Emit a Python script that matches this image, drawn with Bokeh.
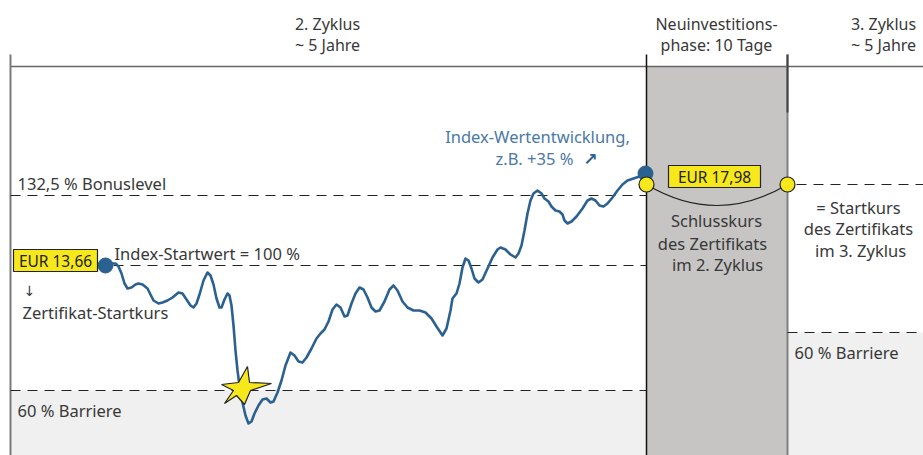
from bokeh.plotting import figure
from bokeh.models import Range1d
from bokeh.core.properties import value
from bokeh.embed import file_html
from bokeh.resources import INLINE

# ---------------- data (chart coordinates: x = time, y = screen level) ----------------
idx_x = [105, 110, 115, 118, 121, 124, 127, 131, 135, 138, 142, 147, 150, 153, 158, 162, 167, 172, 178, 182,
         186, 190, 193, 196, 199, 203, 207, 210, 213, 216, 219, 221, 224, 227, 229, 231, 233, 235, 237, 239,
         242, 245, 248, 251, 254, 258, 262, 266, 270, 273, 277, 281, 285, 290, 294, 298, 302, 306, 311, 316,
         320, 324, 328, 332, 336, 340, 344, 347, 351, 355, 359, 363, 367, 371, 375, 379, 384, 389, 393, 397,
         402, 407, 413, 419, 425, 431, 436, 442, 446, 450, 452, 456, 459, 462, 465, 468, 471, 474, 478, 482,
         487, 492, 497, 500, 505, 510, 515, 518, 521, 524, 527, 530, 533, 537, 541, 544, 548, 551, 555, 559,
         562, 564, 567, 571, 576, 582, 587, 591, 595, 599, 603, 607, 612, 617, 622, 627, 633, 639, 645]
idx_y = [265, 263, 263, 266, 273, 283, 288, 287, 284, 283, 284, 288, 294, 300, 303, 302, 300, 297, 292, 293,
         299, 305, 307, 303, 294, 280, 272, 275, 284, 298, 307, 307, 299, 293, 295, 305, 325, 350, 370, 385,
         402, 415, 423, 421, 413, 405, 399, 398, 402, 401, 392, 380, 365, 352, 355, 361, 362, 357, 348, 338,
         333, 329, 321, 309, 304, 307, 316, 315, 303, 293, 287, 289, 297, 307, 311, 310, 301, 289, 285, 290,
         301, 307, 310, 310, 312, 318, 326, 335, 328, 310, 298, 293, 283, 267, 258, 260, 268, 278, 282, 279,
         268, 257, 249, 247, 249, 254, 257, 253, 245, 230, 213, 200, 193, 190, 193, 198, 201, 206, 210, 211,
         214, 220, 223, 221, 216, 208, 200, 198, 200, 205, 206, 203, 197, 190, 184, 180, 178, 176, 173]

level_names = ["bonus", "start", "barrier"]
level_y = [195, 265, 390]          # 132,5 % / 100 % / 60 %
next_start_y = 184                 # Startkurs 3. Zyklus
next_barrier_y = 332               # 60 % Barriere 3. Zyklus

cycle2_x = [10, 646]
phase_x = [646, 787]
cycle3_x = [787, 923]

star_x = [247, 249, 271, 250, 244, 236, 224, 233, 221, 238]
star_y = [366, 382, 383, 390, 404, 395, 403, 390, 384, 382]

header_text = ["2. Zyklus", "~ 5 Jahre", "Neuinvestitions-", "phase: 10 Tage", "3. Zyklus", "~ 5 Jahre"]
price_start = "EUR 13,66"
price_end = "EUR 17,98"

# ---------------- styles ----------------
FONT = value("Noto Sans")
FS = "16.5px"
TXT = "#383838"
BLUE = "#2b6190"
BLUE_TXT = "#4a79a3"
YELLOW = "#f7e81c"
PHASE = "#c6c5c4"
LIGHT = "#eff0ef"

p = figure(width=923, height=455, x_range=Range1d(0, 923), y_range=Range1d(455, 0),
           output_backend="svg", toolbar_location=None, min_border=0)
p.axis.visible = False
p.grid.visible = False
p.outline_line_color = None
p.background_fill_color = "white"
p.border_fill_color = "white"

# areas
p.quad(left=[cycle2_x[0]], right=[cycle2_x[1]], top=[level_y[2]], bottom=[455], fill_color=LIGHT, line_color=None)
p.quad(left=[cycle3_x[0]], right=[cycle3_x[1]], top=[next_barrier_y], bottom=[455], fill_color=LIGHT, line_color=None)
p.quad(left=[phase_x[0]], right=[phase_x[1]], top=[66], bottom=[455], fill_color=PHASE, line_color=None)

# frame lines
p.segment(x0=[10], y0=[66], x1=[923], y1=[66], line_color="#666666", line_width=1.5)
p.segment(x0=[10], y0=[54], x1=[10], y1=[455], line_color="#7a7a7a", line_width=2)
p.segment(x0=[phase_x[0]], y0=[54], x1=[phase_x[0]], y1=[455], line_color="#111111", line_width=1.5)
p.segment(x0=[phase_x[1]], y0=[54], x1=[phase_x[1]], y1=[455], line_color="#808080", line_width=2)
p.segment(x0=[phase_x[1]], y0=[54], x1=[phase_x[1]], y1=[112], line_color="#444444", line_width=2)

# dashed levels
p.segment(x0=[cycle2_x[0], 113, cycle2_x[0]], y0=level_y, x1=[cycle2_x[1]] * 3, y1=level_y,
          line_color="#222222", line_width=1.2, line_dash="10 7")
p.segment(x0=[796, cycle3_x[0]], y0=[next_start_y, next_barrier_y], x1=[923, 923],
          y1=[next_start_y, next_barrier_y], line_color="#222222", line_width=1.2, line_dash="10 7")

# index curve
p.line(idx_x, idx_y, line_color=BLUE, line_width=2.6, line_join="round", line_cap="round")
p.scatter([idx_x[0], idx_x[-1]], [idx_y[0], idx_y[-1]], size=15, fill_color=BLUE, line_color=BLUE)

# arc between closing and new start price
p.quadratic(x0=[phase_x[0]], y0=[next_start_y], x1=[phase_x[1]], y1=[next_start_y],
            cx=[(phase_x[0] + phase_x[1]) / 2], cy=[226], line_color="#222222", line_width=1.2)
p.scatter(phase_x, [next_start_y, next_start_y], size=15, fill_color=YELLOW, line_color="#222222", line_width=1.2)

# barrier hit star
p.patch(star_x, star_y, fill_color=YELLOW, line_color="#222222", line_width=1.2)

# price boxes
p.quad(left=[13, 668], right=[97, 760], top=[249, 165], bottom=[271, 187],
       fill_color=YELLOW, line_color="#222222", line_width=1.2)
p.text(x=[55, 714], y=[260, 176], text=[price_start, price_end], text_font=FONT, text_font_size="15.5px",
       text_color="#222222", text_align="center", text_baseline="middle")

# header texts
p.text(x=[327, 327, 716, 716, 883, 883], y=[23, 44, 23, 44, 23, 44], text=header_text,
       text_font=FONT, text_font_size="16px", text_color=TXT, text_align="center", text_baseline="middle")

# left texts
p.text(x=[17, 114, 22, 17], y=[183, 253, 312, 410],
       text=["132,5 % Bonuslevel", "Index-Startwert = 100 %", "Zertifikat-Startkurs", "60 % Barriere"],
       text_font=FONT, text_font_size=FS, text_color=TXT, text_align="left", text_baseline="middle")
p.text(x=[29], y=[290], text=["\u2193"], text_font=value("DejaVu Sans"), text_font_size="14px", text_color=TXT,
       text_align="center", text_baseline="middle")

# blue annotation
p.text(x=[537, 534], y=[136, 158], text=["Index-Wertentwicklung,", "z.B. +35 %"], text_font=FONT,
       text_font_size=FS, text_color=BLUE_TXT, text_align="center", text_baseline="middle")
p.text(x=[590], y=[158], text=["\u2197"], text_font=value("DejaVu Sans"), text_font_size="17px",
       text_font_style="bold", text_color=BLUE, text_align="center", text_baseline="middle")

# phase texts
p.text(x=[716, 712, 717], y=[220, 243, 264], text=["Schlusskurs", "des Zertifikats", "im 2. Zyklus"],
       text_font=FONT, text_font_size=FS, text_color=TXT, text_align="center", text_baseline="middle")
p.text(x=[858, 858, 860], y=[207, 228, 250], text=["= Startkurs", "des Zertifikats", "im 3. Zyklus"],
       text_font=FONT, text_font_size=FS, text_color=TXT, text_align="center", text_baseline="middle")
p.text(x=[794], y=[352], text=["60 % Barriere"], text_font=FONT, text_font_size=FS, text_color=TXT,
       text_align="left", text_baseline="middle")

open("out.html", "w").write(file_html(p, INLINE))
